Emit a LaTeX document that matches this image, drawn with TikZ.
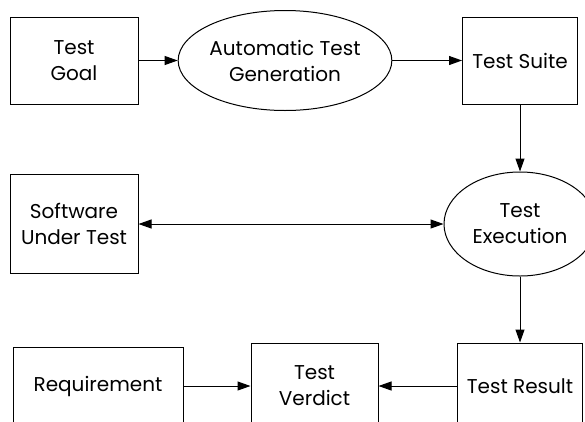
\documentclass[tikz,border=0pt]{standalone}
\usepackage{fontspec}
\setmainfont{Poppins}
\usetikzlibrary{arrows.meta,shapes.geometric}

\begin{document}
\begin{tikzpicture}[x=1pt,y=-1pt]

      \useasboundingbox (0,0) rectangle (585,421);

      % Nodes
      \begin{scope}[every node/.style={rectangle,draw,line width=1pt,align=center,inner sep=0pt,font=\fontsize{20}{26}\selectfont}]
        \node[minimum width=128pt,minimum height=87pt] (goal) at (74,60.5) {Test\\Goal};
        \node[minimum width=115pt,minimum height=87pt] (suite) at (520,60.5) {Test Suite};
        \node[minimum width=128pt,minimum height=99pt] (sut) at (74,224) {Software\\Under Test};

        \node[minimum width=170pt,minimum height=78pt] (req) at (98,386) {Requirement};
        \node[minimum width=127pt,minimum height=86pt] (verdict) at (314.5,386) {Test\\Verdict};
        \node[minimum width=125pt,minimum height=86pt] (result) at (520,386) {Test Result};
      \end{scope}

      \begin{scope}[every node/.style={ellipse,draw,line width=1pt,align=center,inner sep=0pt,font=\fontsize{20}{26}\selectfont}]
        \node[minimum width=210pt,minimum height=100pt] (gen) at (285,60.5) {Automatic Test\\Generation};
        \node[minimum width=152pt,minimum height=104pt] (exec) at (520,224) {Test\\Execution};
      \end{scope}

      % Edges
      \begin{scope}[every edge/.style={draw,line width=1pt,-{Triangle[length=13pt,width=9pt]}}]
        \path (goal) edge (gen);
        \path (gen) edge (suite);
        \path (suite) edge (exec);
        \path (exec) edge (result);

        \path (sut) edge[{Triangle[length=13pt,width=9pt]}-{Triangle[length=13pt,width=9pt]}] (exec);

        \path (req) edge (verdict);
        \path (result) edge (verdict);
      \end{scope}

    \end{tikzpicture}
\end{document}
